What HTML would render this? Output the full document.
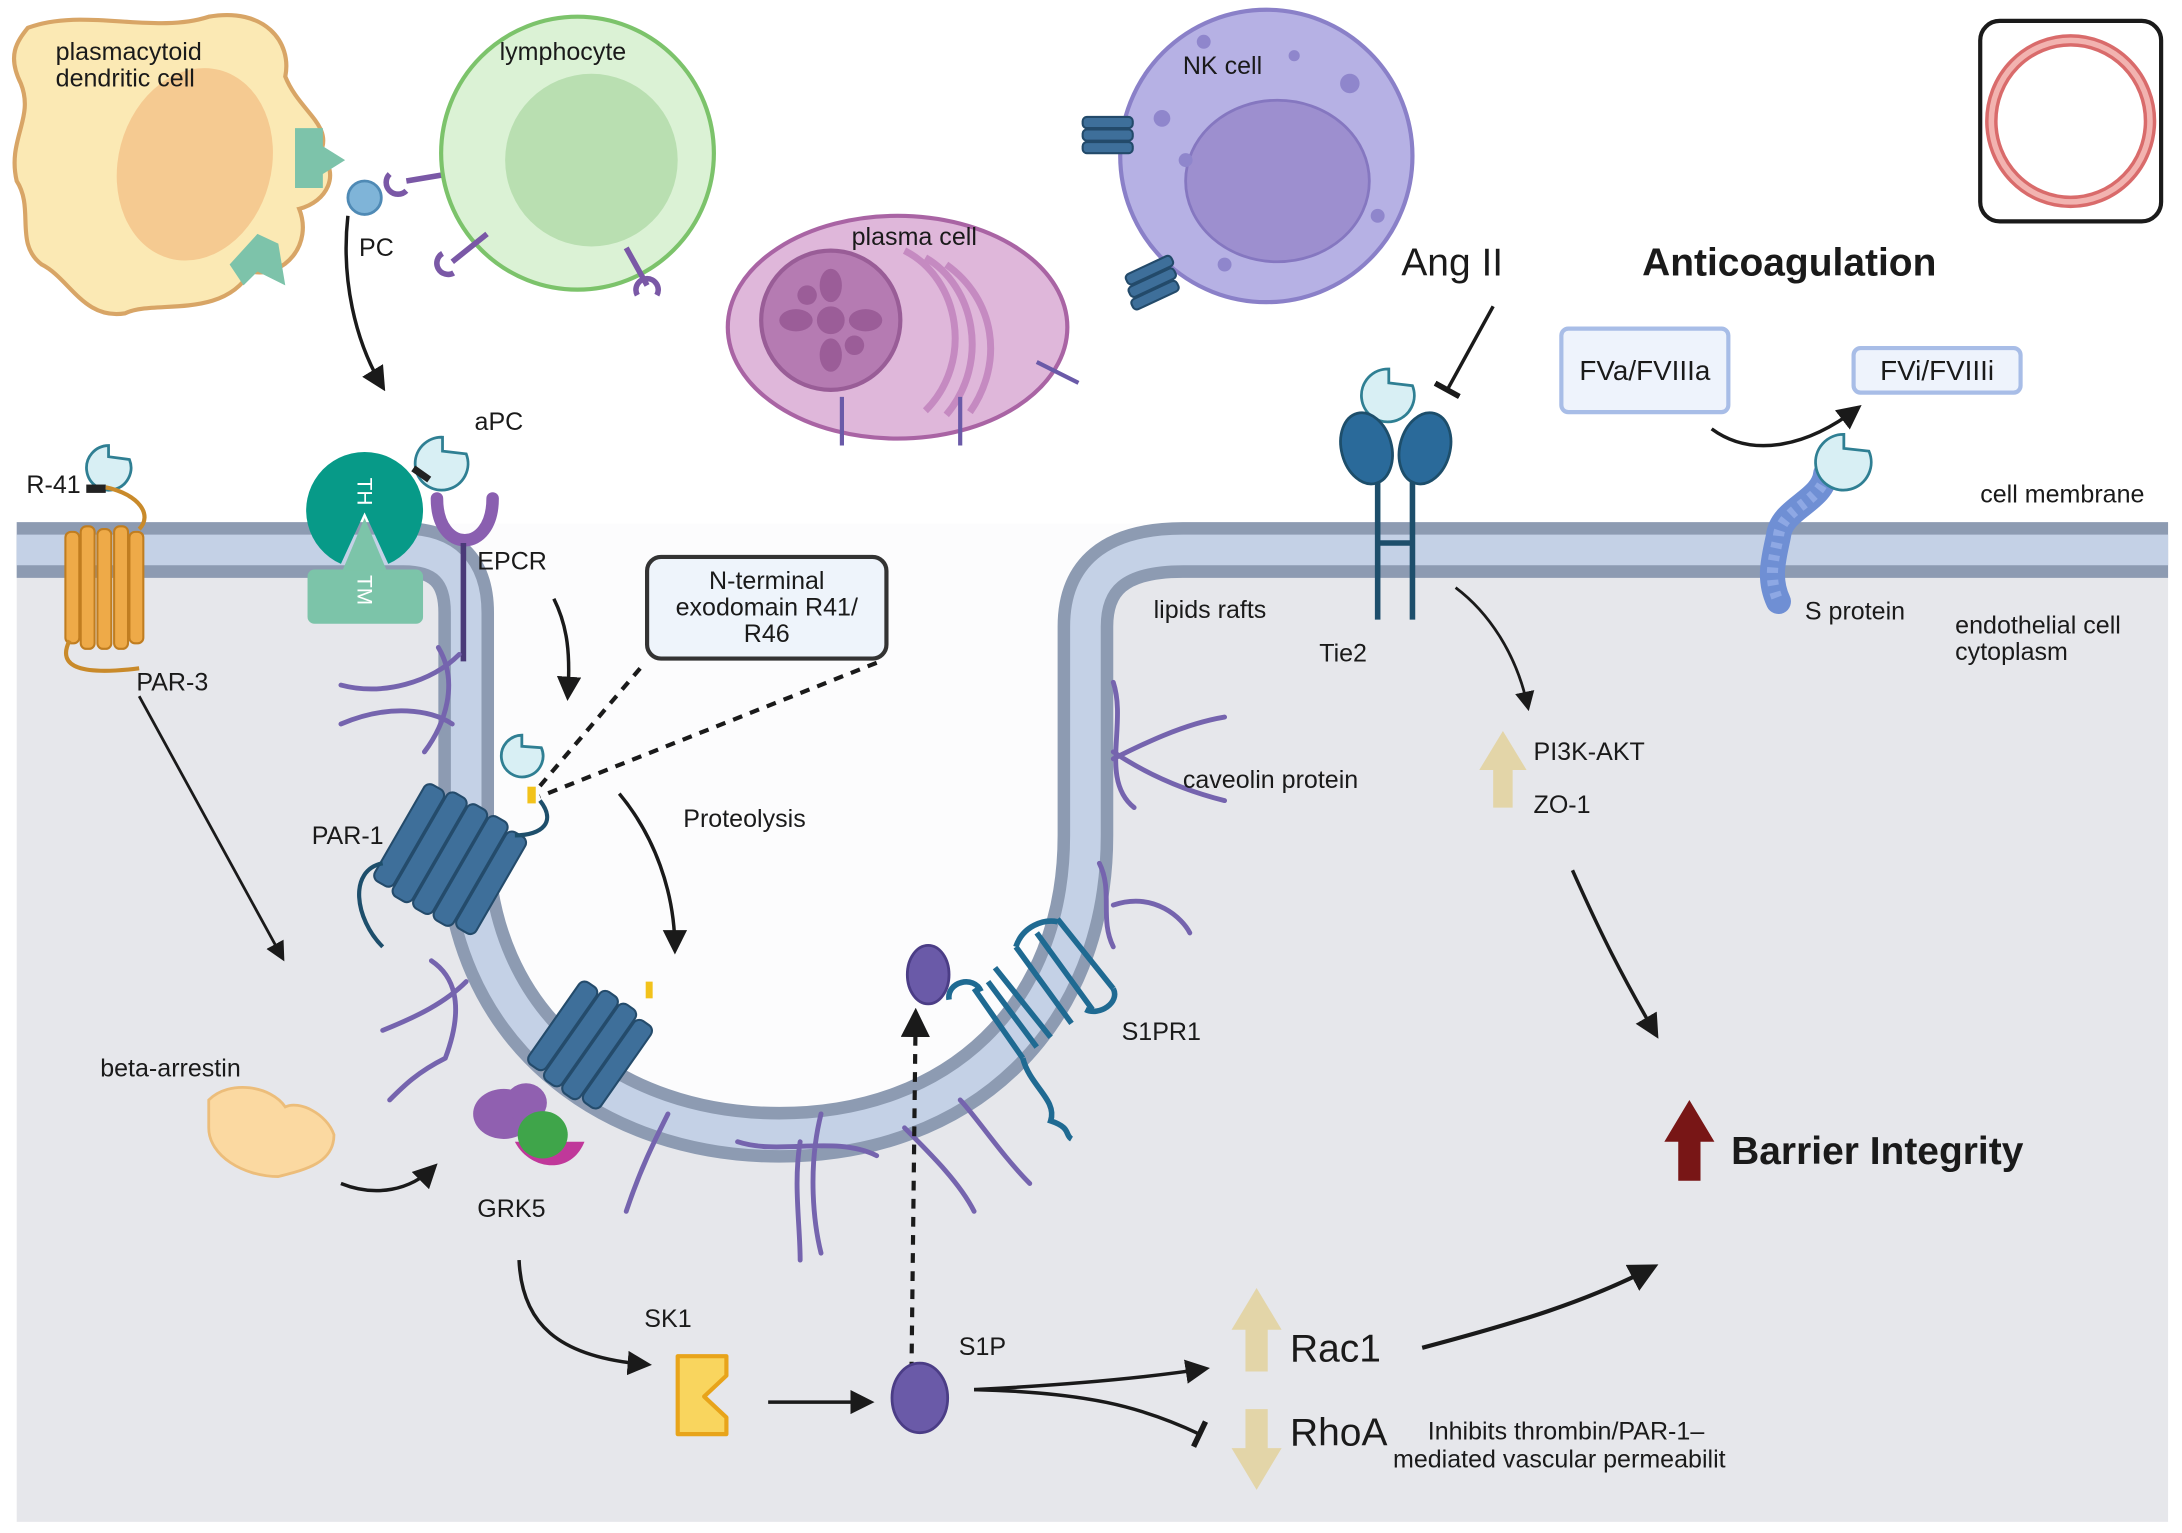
<!DOCTYPE html>
<html><head><meta charset="utf-8"><style>
html,body{margin:0;padding:0;background:#fff;}
svg{display:block;}
text{font-family:"Liberation Sans",sans-serif;fill:#1a1a1a;}
</style></head><body>
<svg width="2182" height="1533" viewBox="0 0 1568 1101" preserveAspectRatio="none" xmlns="http://www.w3.org/2000/svg">
<defs>
<marker id="ah" viewBox="0 0 10 10" refX="8" refY="5" markerWidth="7" markerHeight="7" orient="auto-start-reverse"><path d="M0,0 L10,5 L0,10 Z" fill="#1a1a1a"/></marker>
<marker id="tb" viewBox="0 0 10 10" refX="5" refY="5" markerWidth="8" markerHeight="8" orient="auto"><path d="M5,0 L5,10" stroke="#1a1a1a" stroke-width="2"/></marker>
</defs>
<rect width="1568" height="1101" fill="#fff"/>
<rect x="12" y="395" width="1546" height="698" fill="#e6e7eb"/>
<path d="M290,376 L290,395 C320,395 335,410 335,440 L335,600 C335,740 440,815 560,815 C690,815 780,730 780,600 L780,450 C780,415 800,395 850,395 L850,376 Z" fill="#fcfcfd"/>
<path d="M12,395 L290,395 C320,395 335,410 335,440 L335,600 C335,740 440,815 560,815 C690,815 780,730 780,600 L780,450 C780,415 800,395 850,395 L1558,395" fill="none" stroke="#8d9bb2" stroke-width="40"/>
<path d="M12,395 L290,395 C320,395 335,410 335,440 L335,600 C335,740 440,815 560,815 C690,815 780,730 780,600 L780,450 C780,415 800,395 850,395 L1558,395" fill="none" stroke="#c4d1e6" stroke-width="22"/>

<path d="M20,20 C60,5 110,25 150,12 C190,5 210,30 205,55 C215,80 240,90 230,110 C245,125 235,145 215,150 C225,175 205,200 180,195 C160,230 110,215 90,225 C60,230 50,200 30,190 C10,175 25,150 12,130 C5,100 25,85 15,60 C5,40 12,30 20,20 Z" fill="#fbe9b4" stroke="#d8a566" stroke-width="3"/>
<ellipse cx="140" cy="118" rx="55" ry="70" fill="#f5ca91" transform="rotate(15 140 118)"/>
<path d="M212,92 L232,92 L232,105 L248,115 L232,125 L232,135 L212,135 Z" fill="#7dc3aa"/>
<path d="M165,190 L185,168 L200,175 L205,205 L185,195 L175,205 Z" fill="#7dc3aa"/>
<circle cx="262" cy="142" r="12" fill="#7fb4d8" stroke="#4f8ab5" stroke-width="2"/>
<path d="M280,125 a8,8 0 1 0 12,12 M292,130 L322,125" fill="none" stroke="#7a58a6" stroke-width="4"/>
<circle cx="415" cy="110" r="98" fill="#dbf2d5" stroke="#7cc36b" stroke-width="3"/>
<circle cx="425" cy="115" r="62" fill="#b9dfb1"/>
<path d="M350,168 L325,188 M318,182 a8,8 0 1 0 8,14" fill="none" stroke="#7a58a6" stroke-width="4"/>
<path d="M450,178 L465,205 M458,212 a8,8 0 1 1 14,0" fill="none" stroke="#7a58a6" stroke-width="4"/>
<ellipse cx="645" cy="235" rx="122" ry="80" fill="#dfb7da" stroke="#a964a4" stroke-width="3"/>
<path d="M650,180 C690,200 700,260 665,295 M665,185 C700,205 712,260 680,298 M680,190 C715,215 722,260 697,296" fill="none" stroke="#c58ac1" stroke-width="5"/>
<circle cx="597" cy="230" r="50" fill="#b57bb2" stroke="#995d97" stroke-width="3"/>
<circle cx="597" cy="230" r="10" fill="#9b5d98"/>
<g fill="#9b5d98"><ellipse cx="597" cy="205" rx="8" ry="12"/><ellipse cx="597" cy="255" rx="8" ry="12"/><ellipse cx="572" cy="230" rx="12" ry="8"/><ellipse cx="622" cy="230" rx="12" ry="8"/><ellipse cx="580" cy="212" rx="7" ry="7"/><ellipse cx="614" cy="248" rx="7" ry="7"/></g>
<path d="M605,285 L605,320 M690,285 L690,320 M745,260 L775,275" stroke="#6a5aa8" stroke-width="3" fill="none"/>
<text x="657" y="176" font-size="18" text-anchor="middle">plasma cell</text>
<circle cx="910" cy="112" r="105" fill="#b6b1e4" stroke="#8a80c8" stroke-width="3"/>
<ellipse cx="918" cy="130" rx="66" ry="58" fill="#9d8fcf" stroke="#8577c0" stroke-width="2"/>
<g fill="#8f86cc"><circle cx="835" cy="85" r="6"/><circle cx="970" cy="60" r="7"/><circle cx="852" cy="115" r="5"/><circle cx="990" cy="155" r="5"/><circle cx="880" cy="190" r="5"/><circle cx="930" cy="40" r="4"/><circle cx="865" cy="30" r="5"/></g>
<g fill="#3e6f9a" stroke="#234a6a" stroke-width="1.5"><rect x="778" y="84" width="36" height="8" rx="3"/><rect x="778" y="93" width="36" height="8" rx="3"/><rect x="778" y="102" width="36" height="8" rx="3"/>
<rect x="808" y="190" width="36" height="8" rx="3" transform="rotate(-25 826 194)"/><rect x="810" y="199" width="36" height="8" rx="3" transform="rotate(-25 828 203)"/><rect x="812" y="208" width="36" height="8" rx="3" transform="rotate(-25 830 212)"/></g>
<rect x="1423" y="15" width="130" height="144" rx="14" fill="#fff" stroke="#1a1a1a" stroke-width="3"/>
<ellipse cx="1488" cy="87" rx="57" ry="58" fill="none" stroke="#d96b6b" stroke-width="9"/>
<ellipse cx="1488" cy="87" rx="57" ry="58" fill="none" stroke="#f2b3b0" stroke-width="4"/>

<text x="40" y="43" font-size="18">plasmacytoid</text>
<text x="40" y="62" font-size="18">dendritic cell</text>
<text x="359" y="43" font-size="18">lymphocyte</text>
<text x="850" y="53" font-size="18">NK cell</text>
<text x="258" y="184" font-size="18">PC</text>
<text x="1007" y="198" font-size="28">Ang II</text>
<text x="1180" y="198" font-size="28" font-weight="bold">Anticoagulation</text>
<path d="M250,155 C245,200 255,245 275,278" fill="none" stroke="#1a1a1a" stroke-width="2.5" marker-end="url(#ah)"/>
<path d="M1073,220 L1040,280" fill="none" stroke="#1a1a1a" stroke-width="2.5" marker-end="url(#tb)"/>
<rect x="1122" y="236" width="120" height="60" rx="5" fill="#eef3fc" stroke="#a8bde7" stroke-width="3"/>
<text x="1182" y="273" font-size="20" text-anchor="middle">FVa/FVIIIa</text>
<rect x="1332" y="250" width="120" height="32" rx="5" fill="#eef3fc" stroke="#a8bde7" stroke-width="3"/>
<text x="1392" y="273" font-size="20" text-anchor="middle">FVi/FVIIIi</text>
<path d="M1230,308 C1260,330 1300,320 1335,293" fill="none" stroke="#1a1a1a" stroke-width="2.5" marker-end="url(#ah)"/>
<path d="M1312,340 C1310,360 1280,365 1278,385 C1275,400 1270,415 1278,432" fill="none" stroke="#6f8fd4" stroke-width="18" stroke-linecap="round"/>
<path d="M1312,340 C1310,360 1280,365 1278,385 C1275,400 1270,415 1278,432" fill="none" stroke="#8ea8e4" stroke-width="8" stroke-dasharray="4 5"/>
<g fill="#d8eff4" stroke="#2f7f93" stroke-width="2"><path d="M1325,312 a20,20 0 1 0 18,12 l-18,-2 z"/><path d="M998,265 a19,19 0 1 0 17,12 l-17,-2 z"/><path d="M78,320 a16,16 0 1 0 15,10 l-15,-2 z"/><path d="M318,314 a19,19 0 1 0 17,12 l-17,-2 z"/><path d="M375,528 a15,15 0 1 0 14,9 l-14,-1 z"/></g>
<text x="1297" y="445" font-size="18">S protein</text>
<text x="1423" y="361" font-size="18">cell membrane</text>
<text x="1405" y="455" font-size="18">endothelial cell</text>
<text x="1405" y="474" font-size="18">cytoplasm</text>
<path d="M990,340 L990,445 M1015,340 L1015,445 M990,390 L1015,390" stroke="#1d4e6b" stroke-width="4"/>
<ellipse cx="982" cy="322" rx="18" ry="26" fill="#2a6a9a" stroke="#1d4e6b" stroke-width="2" transform="rotate(-15 982 322)"/>
<ellipse cx="1024" cy="322" rx="18" ry="26" fill="#2a6a9a" stroke="#1d4e6b" stroke-width="2" transform="rotate(15 1024 322)"/>
<text x="948" y="475" font-size="18">Tie2</text>
<path d="M1046,422 C1070,440 1090,470 1098,508" fill="none" stroke="#1a1a1a" stroke-width="2" marker-end="url(#ah)"/>
<text x="829" y="444" font-size="18">lipids rafts</text>
<path d="M1080,525 L1097,553 L1087,553 L1087,580 L1073,580 L1073,553 L1063,553 Z" fill="#e3d5a8"/>
<text x="1102" y="546" font-size="18">PI3K-AKT</text>
<text x="1102" y="584" font-size="18">ZO-1</text>
<path d="M1130,625 C1150,670 1165,700 1190,743" fill="none" stroke="#1a1a1a" stroke-width="2.5" marker-end="url(#ah)"/>
<path d="M1214,790 L1232,820 L1222,820 L1222,848 L1206,848 L1206,820 L1196,820 Z" fill="#781616"/>
<text x="1244" y="836" font-size="28" font-weight="bold">Barrier Integrity</text>
<text x="19" y="354" font-size="18">R-41</text>
<rect x="62" y="348" width="14" height="6" fill="#222"/>
<path d="M76,350 C100,355 110,370 100,380" fill="none" stroke="#c98a2a" stroke-width="3"/>
<g fill="#eeaa48" stroke="#c07d20" stroke-width="1.5"><rect x="47" y="382" width="10" height="80" rx="4"/><rect x="58" y="378" width="10" height="88" rx="4"/><rect x="70" y="380" width="10" height="86" rx="4"/><rect x="82" y="378" width="10" height="88" rx="4"/><rect x="93" y="382" width="10" height="80" rx="4"/></g>
<path d="M50,460 C40,480 60,485 100,480" fill="none" stroke="#c98a2a" stroke-width="3"/>
<text x="98" y="496" font-size="18">PAR-3</text>
<path d="M100,500 L203,688" stroke="#1a1a1a" stroke-width="2" marker-end="url(#ah)"/>
<!-- TH/TM EPCR -->
<rect x="221" y="409" width="83" height="39" rx="5" fill="#7cc4a9"/>
<path d="M245,405 A42,42 0 1 1 279,405 L262,368 Z" fill="#079a88"/>
<path d="M262,372 L246,410 L278,410 Z" fill="#7cc4a9"/>
<text x="0" y="0" font-size="15" transform="translate(257,343) rotate(90)" style="fill:#fff">TH</text>
<text x="0" y="0" font-size="15" transform="translate(257,413) rotate(90)" style="fill:#fff">TM</text>
<rect x="296" y="338" width="14" height="5" fill="#222" transform="rotate(35 303 340)"/>
<path d="M314,358 C314,398 354,398 354,358" fill="none" stroke="#8a5fb0" stroke-width="9" stroke-linecap="round"/>
<path d="M333,390 L333,475" stroke="#4a3a78" stroke-width="4"/>
<text x="341" y="309" font-size="18">aPC</text>
<text x="343" y="409" font-size="18">EPCR</text>
<path d="M398,430 C408,450 410,470 408,500" fill="none" stroke="#1a1a1a" stroke-width="2.5" marker-end="url(#ah)"/>
<rect x="465" y="400" width="172" height="73" rx="10" fill="#eef4fb" stroke="#333" stroke-width="3"/>
<text x="551" y="423" font-size="18" text-anchor="middle">N-terminal</text>
<text x="551" y="442" font-size="18" text-anchor="middle">exodomain R41/</text>
<text x="551" y="461" font-size="18" text-anchor="middle">R46</text>
<path d="M460,480 L385,568 M630,476 L388,572" stroke="#1a1a1a" stroke-width="3" stroke-dasharray="7 6"/>
<rect x="379" y="565" width="6" height="12" fill="#f2c21b"/>
<text x="491" y="594" font-size="18">Proteolysis</text>
<path d="M445,570 C470,600 485,640 485,682" fill="none" stroke="#1a1a1a" stroke-width="2.5" marker-end="url(#ah)"/>
<text x="224" y="606" font-size="18">PAR-1</text>
<g transform="rotate(30 320 615)" fill="#3e6f9a" stroke="#244b6b" stroke-width="1.5">
<rect x="282" y="575" width="16" height="80" rx="5"/><rect x="299" y="572" width="16" height="86" rx="5"/><rect x="316" y="572" width="16" height="86" rx="5"/><rect x="333" y="572" width="16" height="86" rx="5"/><rect x="350" y="575" width="16" height="80" rx="5"/></g>
<path d="M370,600 C390,600 400,590 388,575 M275,620 C250,625 255,660 275,680" fill="none" stroke="#1d4e6b" stroke-width="3"/>
<g transform="rotate(35 425 750)" fill="#3e6f9a" stroke="#244b6b" stroke-width="1.5">
<rect x="393" y="715" width="15" height="72" rx="5"/><rect x="409" y="712" width="15" height="78" rx="5"/><rect x="425" y="712" width="15" height="78" rx="5"/><rect x="441" y="715" width="15" height="72" rx="5"/></g>
<rect x="464" y="705" width="5" height="12" fill="#f2c21b"/>
<ellipse cx="362" cy="800" rx="22" ry="18" fill="#9060b0"/><ellipse cx="378" cy="792" rx="15" ry="14" fill="#9060b0"/>
<path d="M370,820 C380,840 410,845 420,820 Z" fill="#c0389a"/>
<ellipse cx="390" cy="815" rx="18" ry="17" fill="#3fa54a"/>
<text x="343" y="874" font-size="18">GRK5</text>
<path d="M150,790 C165,775 195,780 205,795 C215,790 235,800 240,815 C240,835 220,840 200,845 C175,845 150,830 150,810 Z" fill="#fbd9a1" stroke="#ecbd7a" stroke-width="2"/>
<text x="72" y="773" font-size="18">beta-arrestin</text>
<path d="M245,850 C270,860 295,855 312,838" fill="none" stroke="#1a1a1a" stroke-width="2.5" marker-end="url(#ah)"/>
<g fill="none" stroke="#7564ae" stroke-width="3.5" stroke-linecap="round">
<path d="M245,492 C275,500 310,490 330,470 M245,520 C280,505 310,510 325,520 M315,465 C330,490 320,520 305,540"/>
<path d="M880,515 C850,520 820,535 800,545 M800,490 C810,520 790,560 815,580 M800,540 C830,560 860,570 880,575"/>
<path d="M275,740 C300,730 320,720 335,705 M310,690 C325,700 335,720 320,760 M320,760 C300,770 290,780 280,790"/>
<path d="M450,870 C460,840 470,820 480,800 M530,820 C560,830 600,815 630,830 M590,800 C580,840 585,880 590,900 M575,820 C570,850 575,880 575,905 M650,810 C670,830 690,850 700,870 M690,790 C700,800 720,830 740,850"/>
<path d="M790,620 C800,640 790,660 800,680 M800,650 C830,640 850,660 855,670"/>
</g>
<g fill="none" stroke="#1f6a92" stroke-width="4">
<path d="M700,710 L735,760 M710,705 L745,752 M715,695 L755,745 M730,680 L770,735 M745,670 L785,725 M760,660 L800,710"/>
<path d="M682,718 C680,705 700,700 705,712 M730,680 C735,665 750,660 760,662 M800,710 C805,720 790,730 780,725"/>
<path d="M735,760 C740,780 760,790 755,805 C770,810 765,815 770,818"/>
</g>
<text x="806" y="747" font-size="18">S1PR1</text>
<ellipse cx="667" cy="700" rx="15" ry="21" fill="#6a5aa8" stroke="#4b3d86" stroke-width="2"/>
<path d="M655,985 L658,728" stroke="#1a1a1a" stroke-width="3" stroke-dasharray="7 6" marker-end="url(#ah)"/>
<text x="850" y="566" font-size="18">caveolin protein</text>
<path d="M373,905 C375,950 400,975 465,980" fill="none" stroke="#1a1a1a" stroke-width="2.5" marker-end="url(#ah)"/>
<text x="463" y="953" font-size="18">SK1</text>
<path d="M487,974 L522,974 L522,988 L506,1003 L522,1018 L522,1030 L487,1030 Z" fill="#f9d55e" stroke="#e8a41a" stroke-width="3" stroke-linejoin="round"/>
<path d="M552,1007 L625,1007" stroke="#1a1a1a" stroke-width="2.5" marker-end="url(#ah)"/>
<ellipse cx="661" cy="1004" rx="20" ry="25" fill="#6a5aa8" stroke="#4b3d86" stroke-width="2"/>
<text x="689" y="973" font-size="18">S1P</text>
<path d="M700,998 C760,995 820,990 866,983" fill="none" stroke="#1a1a1a" stroke-width="2.5" marker-end="url(#ah)"/>
<path d="M700,998 C780,1000 820,1010 862,1030" fill="none" stroke="#1a1a1a" stroke-width="2.5" marker-end="url(#tb)"/>
<path d="M903,925 L921,955 L911,955 L911,985 L895,985 L895,955 L885,955 Z" fill="#e3d5a8"/>
<path d="M903,1070 L921,1040 L911,1040 L911,1012 L895,1012 L895,1040 L885,1040 Z" fill="#e3d5a8"/>
<text x="927" y="978" font-size="28">Rac1</text>
<text x="927" y="1038" font-size="28">RhoA</text>
<text x="1026" y="1034" font-size="18">Inhibits thrombin/PAR-1–</text>
<text x="1001" y="1054" font-size="18">mediated vascular permeabilit</text>
<path d="M1022,968 C1090,950 1140,935 1188,910" fill="none" stroke="#1a1a1a" stroke-width="3" marker-end="url(#ah)"/>
</svg>
</body></html>
